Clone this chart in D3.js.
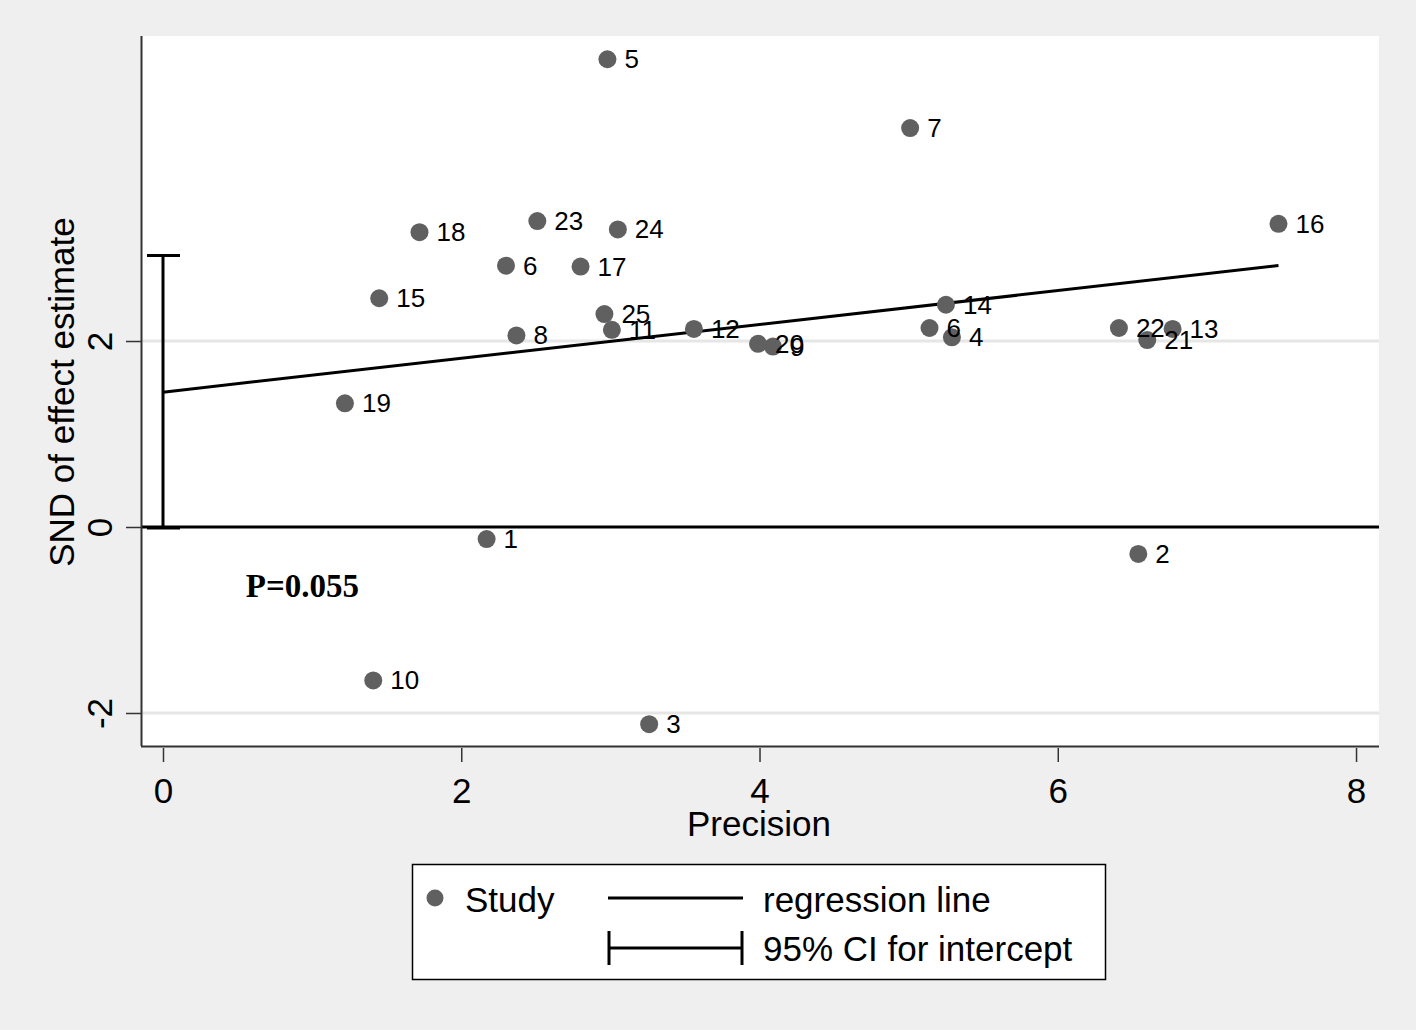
<!DOCTYPE html>
<html>
<head>
<meta charset="utf-8">
<script src="https://cdn.jsdelivr.net/npm/d3@7"></script>
<style>
  html, body { margin: 0; padding: 0; background: #efefef; }
  svg { display: block; font-family: "Liberation Sans", Arial, sans-serif; }
</style>
</head>
<body>
<svg id="chart" width="1416" height="1030"></svg>
<script>
// ---- Data ----
const studyLabels = ["5", "7", "16", "18", "23", "24", "6", "17", "15", "25", "11", "8", "12", "20", "9", "14", "6", "4", "22", "13", "21", "19", "1", "2", "10", "3"];
const precision   = [2.98, 5.01, 7.48, 1.72, 2.51, 3.05, 2.30, 2.80, 1.45, 2.96, 3.01, 2.37, 3.56, 3.99, 4.09, 5.25, 5.14, 5.29, 6.41, 6.77, 6.60, 1.22, 2.17, 6.54, 1.41, 3.26];
const snd         = [5.03, 4.29, 3.26, 3.17, 3.29, 3.20, 2.81, 2.80, 2.46, 2.29, 2.12, 2.06, 2.13, 1.97, 1.94, 2.39, 2.14, 2.04, 2.14, 2.13, 2.01, 1.33, -0.13, -0.29, -1.65, -2.12];
const regIntercept = 1.45;
const regSlope = 0.182;
const ciIntercept = [-0.01, 2.92];
const xTicks = [0, 2, 4, 6, 8];
const yTicks = [-2, 0, 2];
const pValueText = "P=0.055";
const legendItems = ["Study", "regression line", "95% CI for intercept"];

// ---- Layout ----
const svg = d3.select("#chart");
const plot = { left: 141, right: 1379, top: 36, bottom: 746 };
const x = d3.scaleLinear().domain([-0.1475, 8.154]).range([plot.left, plot.right]);
const y = d3.scaleLinear().domain([-2.355, 5.28]).range([plot.bottom, plot.top]);
const fmt = d => String(d); // plain hyphen-minus, as in the reference

const ptColor = "#606060";

// plot background
svg.append("rect").attr("x", plot.left).attr("y", plot.top)
  .attr("width", plot.right - plot.left).attr("height", plot.bottom - plot.top)
  .attr("fill", "#ffffff");

// gridlines
svg.append("g").selectAll("line").data(yTicks.filter(d => d !== 0)).join("line")
  .attr("x1", plot.left).attr("x2", plot.right)
  .attr("y1", d => y(d)).attr("y2", d => y(d))
  .attr("stroke", "#e6e6e6").attr("stroke-width", 3);

// zero line
svg.append("line").attr("x1", plot.left).attr("x2", plot.right)
  .attr("y1", y(0)).attr("y2", y(0))
  .attr("stroke", "#000").attr("stroke-width", 3);

// CI for intercept
const ci = svg.append("g").attr("stroke", "#000").attr("stroke-width", 3);
ci.append("line").attr("x1", x(0)).attr("x2", x(0)).attr("y1", y(ciIntercept[0])).attr("y2", y(ciIntercept[1]));
ciIntercept.forEach(v => {
  ci.append("line").attr("x1", x(0) - 16).attr("x2", x(0) + 17).attr("y1", y(v)).attr("y2", y(v));
});

// regression line
const xMax = d3.max(precision);
svg.append("line")
  .attr("x1", x(0)).attr("y1", y(regIntercept))
  .attr("x2", x(xMax)).attr("y2", y(regIntercept + regSlope * xMax))
  .attr("stroke", "#000").attr("stroke-width", 3);

// points
const pts = precision.map((p, i) => ({ p, s: snd[i], lab: studyLabels[i] }));
svg.append("g").selectAll("circle").data(pts).join("circle")
  .attr("cx", d => x(d.p)).attr("cy", d => y(d.s)).attr("r", 9)
  .attr("fill", ptColor);
svg.append("g").selectAll("text").data(pts).join("text")
  .attr("x", d => x(d.p) + 17).attr("y", d => y(d.s) + 9)
  .attr("font-size", 26).attr("fill", "#000")
  .text(d => d.lab);

// axes
const xAxis = d3.axisBottom(x).tickValues(xTicks).tickSize(16).tickPadding(14).tickFormat(fmt);
const gx = svg.append("g").attr("transform", `translate(0,${plot.bottom})`).call(xAxis);
gx.select(".domain").attr("d", `M${plot.left},0.5H${plot.right}`).attr("stroke", "#333").attr("stroke-width", 2);
gx.selectAll(".tick line").attr("stroke", "#333").attr("stroke-width", 1.5).attr("y1", 2);
gx.selectAll(".tick text").attr("font-size", 35).attr("font-family", "Liberation Sans, Arial, sans-serif")
  .attr("fill", "#000").attr("dy", null).attr("y", 57);

const yAxis = d3.axisLeft(y).tickValues(yTicks).tickSize(15).tickFormat(fmt);
const gy = svg.append("g").attr("transform", `translate(${plot.left},0)`).call(yAxis);
gy.select(".domain").attr("d", `M0.5,${plot.top}V${plot.bottom}`).attr("stroke", "#333").attr("stroke-width", 2);
gy.selectAll(".tick line").attr("stroke", "#333").attr("stroke-width", 1.5);
gy.selectAll(".tick text").attr("font-size", 35).attr("font-family", "Liberation Sans, Arial, sans-serif")
  .attr("fill", "#000").attr("x", null).attr("y", null).attr("dy", null)
  .attr("text-anchor", "middle")
  .attr("transform", "translate(-29,0) rotate(-90)");

// axis titles
svg.append("text").attr("x", 759).attr("y", 836).attr("text-anchor", "middle")
  .attr("font-size", 35).attr("fill", "#000").text("Precision");
svg.append("text").attr("transform", "translate(74,392) rotate(-90)").attr("text-anchor", "middle")
  .attr("font-size", 35).attr("fill", "#000").text("SND of effect estimate");

// P value
svg.append("text").attr("x", x(0.555)).attr("y", 597)
  .attr("font-family", "Liberation Serif, 'Times New Roman', serif").attr("font-weight", "bold")
  .attr("font-size", 33).attr("fill", "#000").text(pValueText);

// legend
const lg = svg.append("g");
lg.append("rect").attr("x", 412.5).attr("y", 864.5).attr("width", 693).attr("height", 115)
  .attr("fill", "#fff").attr("stroke", "#000").attr("stroke-width", 1.5);
lg.append("circle").attr("cx", 435).attr("cy", 898).attr("r", 8.5).attr("fill", ptColor);
lg.append("text").attr("x", 465).attr("y", 912).attr("font-size", 35).text(legendItems[0]);
lg.append("line").attr("x1", 608).attr("x2", 743).attr("y1", 898).attr("y2", 898).attr("stroke", "#000").attr("stroke-width", 3);
lg.append("text").attr("x", 763).attr("y", 912).attr("font-size", 35).text(legendItems[1]);
const lci = lg.append("g").attr("stroke", "#000").attr("stroke-width", 3);
lci.append("line").attr("x1", 609).attr("x2", 742).attr("y1", 948).attr("y2", 948);
lci.append("line").attr("x1", 609).attr("x2", 609).attr("y1", 931).attr("y2", 965);
lci.append("line").attr("x1", 742).attr("x2", 742).attr("y1", 931).attr("y2", 965);
lg.append("text").attr("x", 763).attr("y", 961).attr("font-size", 35).text(legendItems[2]);
</script>
</body>
</html>
